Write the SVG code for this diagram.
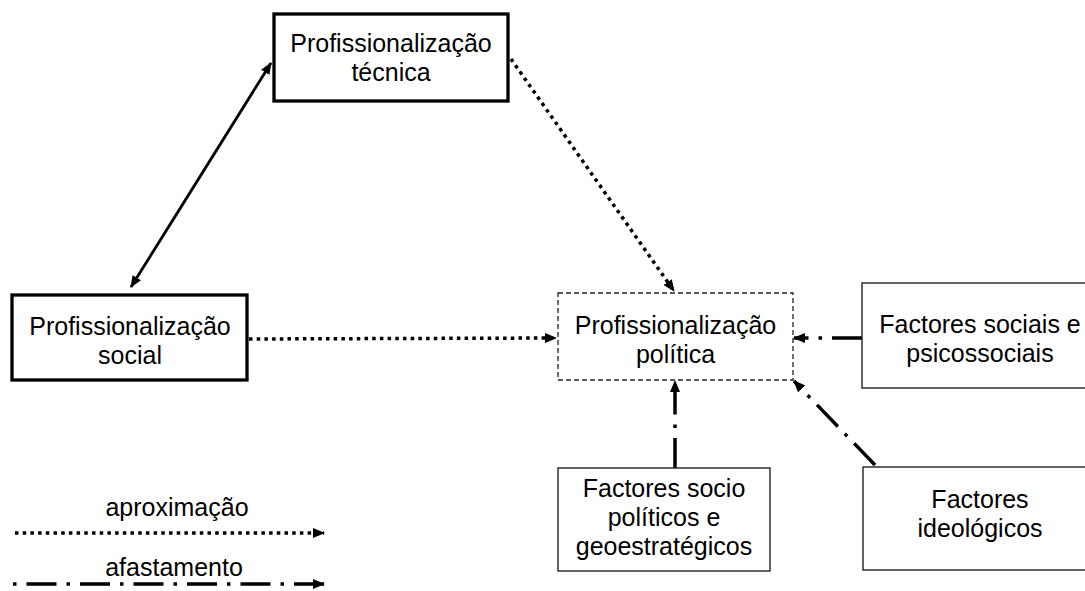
<svg xmlns="http://www.w3.org/2000/svg" width="1085" height="591" viewBox="0 0 1085 591">
<style>
text{font-family:"Liberation Sans",Arial,sans-serif;font-size:25px;fill:#000;text-anchor:middle}
.thick{fill:#fff;stroke:#000;stroke-width:3.3}
.thin{fill:#fff;stroke:#222;stroke-width:1.4}
.dash{fill:#fff;stroke:#222;stroke-width:1.3;stroke-dasharray:5 3}
.solid{stroke:#000;stroke-width:2.8;fill:none}
.dot{stroke:#000;stroke-width:3.5;fill:none;stroke-dasharray:3.5 4.2}
.dd{stroke:#000;stroke-width:3.5;fill:none;stroke-dasharray:30 10 3.5 10}
</style>
<defs>
<marker id="ah" markerUnits="userSpaceOnUse" markerWidth="12" markerHeight="10" refX="11" refY="5" orient="auto-start-reverse" viewBox="0 0 12 10">
<path d="M0,0 L12,5 L0,10 z" fill="#000"/>
</marker>
</defs>
<g id="connectors">
<line class="solid" x1="131" y1="287" x2="271" y2="63" marker-start="url(#ah)" marker-end="url(#ah)"/>
<line class="dot" x1="511" y1="59" x2="674" y2="291" marker-end="url(#ah)"/>
<line class="dot" x1="249" y1="339" x2="556" y2="338" marker-end="url(#ah)"/>
<line class="dd" x1="862" y1="338" x2="794" y2="338" marker-end="url(#ah)"/>
<line class="dd" x1="675" y1="468" x2="675" y2="381" marker-end="url(#ah)"/>
<line class="dd" x1="875" y1="465" x2="794" y2="381" marker-end="url(#ah)"/>
</g>
<g id="tecnica">
<rect class="thick" x="274" y="14" width="234" height="87"/>
<text x="391" y="52">Profissionalização</text>
<text x="391" y="81">técnica</text>
</g>
<g id="social">
<rect class="thick" x="12" y="295" width="235" height="85"/>
<text x="130" y="335">Profissionalização</text>
<text x="130" y="364">social</text>
</g>
<g id="politica">
<rect class="dash" x="558" y="293" width="235" height="87"/>
<text x="675.5" y="334">Profissionalização</text>
<text x="675.5" y="363">política</text>
</g>
<g id="psicossociais">
<rect class="thin" x="862" y="283" width="226" height="105"/>
<text x="980" y="333">Factores sociais e</text>
<text x="980" y="362">psicossociais</text>
</g>
<g id="geoestrategicos">
<rect class="thin" x="558" y="468" width="212" height="103"/>
<text x="664" y="497">Factores socio</text>
<text x="664" y="526">políticos e</text>
<text x="664" y="555">geoestratégicos</text>
</g>
<g id="ideologicos">
<rect class="thin" x="863" y="467" width="226" height="103"/>
<text x="980" y="508">Factores</text>
<text x="980" y="537">ideológicos</text>
</g>
<g id="legend">
<text x="177" y="516">aproximação</text>
<line class="dot" x1="15" y1="533" x2="324" y2="533" marker-end="url(#ah)"/>
<text x="174" y="576">afastamento</text>
<line class="dd" x1="13" y1="584" x2="324" y2="584" stroke-dashoffset="40" marker-end="url(#ah)"/>
</g>
</svg>
